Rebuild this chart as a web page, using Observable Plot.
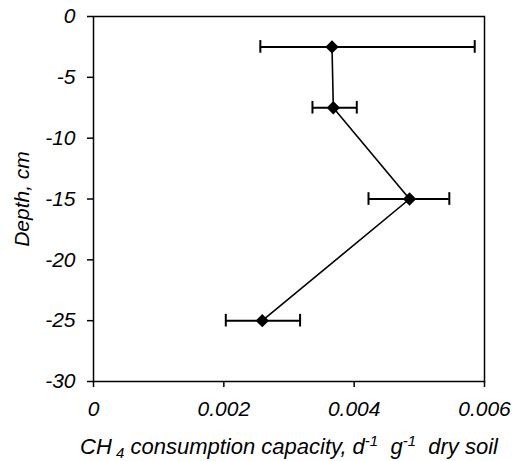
<!DOCTYPE html>
<html>
<head>
<meta charset="utf-8">
<script src="https://cdn.jsdelivr.net/npm/d3@7"></script>
<script src="https://cdn.jsdelivr.net/npm/@observablehq/plot@0.6"></script>
<style>
  html, body { margin: 0; padding: 0; background: #fff; }
  #chart svg { display: block; }
</style>
</head>
<body>
<div id="chart"></div>
<script>
// Data
const depths = [-2.5, -7.5, -15, -25];
const capacity = [0.00366, 0.00368, 0.00485, 0.00259];
const errLow = [0.00256, 0.00336, 0.00422, 0.00203];
const errHigh = [0.00585, 0.00404, 0.00546, 0.00317];
const yTicks = [0, -5, -10, -15, -20, -25, -30];
const xTicks = [0, 0.002, 0.004, 0.006];
const yLabel = "Depth, cm";

const data = depths.map((d, i) => ({depth: d, value: capacity[i], lo: errLow[i], hi: errHigh[i]}));
const caps = data.flatMap(d => [{x: d.lo, depth: d.depth}, {x: d.hi, depth: d.depth}]);

const font = "'Liberation Sans', Arial, sans-serif";
const xFmt = d => d === 0 ? "0" : d.toFixed(3);

const chart = Plot.plot({
  width: 512,
  height: 461,
  marginLeft: 93,
  marginRight: 28,
  marginTop: 16,
  marginBottom: 80,
  style: {fontFamily: font, fontSize: "21px", fontStyle: "italic", color: "#000", background: "#fff"},
  x: {domain: [0, 0.006], ticks: xTicks, tickFormat: xFmt, label: null},
  y: {domain: [-30, 0], ticks: yTicks, tickFormat: d => String(d), label: null},
  marks: [
    Plot.frame({stroke: "#000", strokeWidth: 1.5}),
    Plot.axisX({ticks: xTicks, tickFormat: xFmt, tickSize: 6, tickPadding: 14, fontSize: 21, label: null, stroke: "#000", strokeWidth: 1.5}),
    Plot.axisY({ticks: yTicks, tickFormat: d => String(d), tickSize: 6, tickPadding: 12, fontSize: 21, label: null, stroke: "#000", strokeWidth: 1.5}),
    Plot.ruleY(data, {y: "depth", x1: "lo", x2: "hi", stroke: "#000", strokeWidth: 2}),
    Plot.ruleX(caps, {x: "x", y1: d => d.depth - 0.52, y2: d => d.depth + 0.52, stroke: "#000", strokeWidth: 2}),
    Plot.line(data, {x: "value", y: "depth", stroke: "#000", strokeWidth: 1.6}),
    Plot.dot(data, {x: "value", y: "depth", symbol: "diamond2", r: 6, fill: "#000", stroke: "none"})
  ]
});

const svg = d3.select(chart);
svg.selectAll("g[aria-label$='tick label'], g[aria-label$='tick label'] text")
  .attr("font-size", 21)
  .style("font-size", "21px")
  .style("font-style", "italic")
  .style("font-family", font);

// Y axis title
svg.append("text")
  .attr("transform", "translate(29,199) rotate(-90)")
  .attr("text-anchor", "middle")
  .style("font-size", "21px").style("font-style", "italic").style("font-family", font)
  .attr("fill", "#000")
  .text(yLabel);
// X axis title with subscript / superscripts
const xl = svg.append("text")
  .attr("x", 289).attr("y", 454)
  .attr("text-anchor", "middle")
  .attr("fill", "#000")
  .style("font-size", "22px").style("font-style", "italic").style("font-family", font);
xl.append("tspan").text("CH");
xl.append("tspan").attr("dy", 4).style("font-size", "15px").text(" 4");
xl.append("tspan").attr("dy", -4).text(" consumption capacity, d");
xl.append("tspan").attr("dy", -8).style("font-size", "15px").text("-1");
xl.append("tspan").attr("dy", 8).text("  g");
xl.append("tspan").attr("dy", -8).style("font-size", "15px").text("-1");
xl.append("tspan").attr("dy", 8).text("  dry soil");

document.getElementById("chart").appendChild(chart);
</script>
</body>
</html>
